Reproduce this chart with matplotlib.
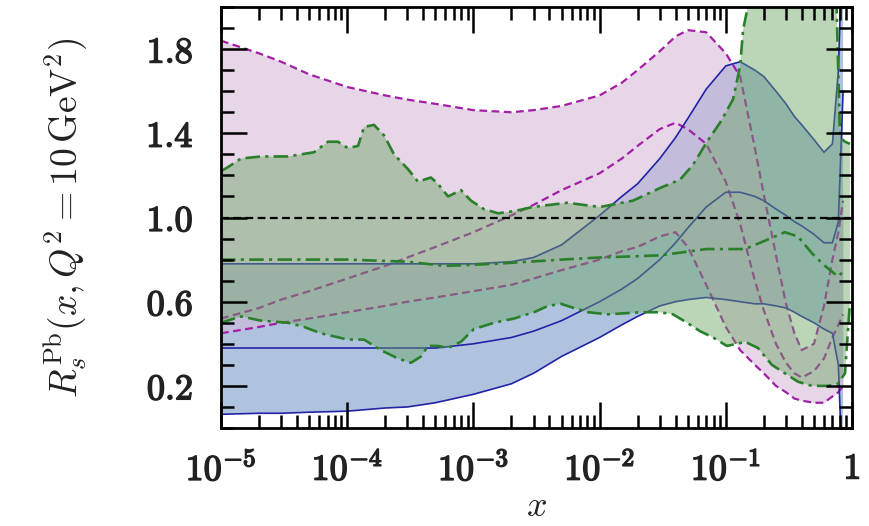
import numpy as np
import matplotlib.pyplot as plt
import matplotlib.patheffects as pe
from matplotlib.ticker import FixedLocator, FixedFormatter, MultipleLocator, LogLocator, NullFormatter

plt.rcParams['mathtext.fontset'] = 'cm'
plt.rcParams['font.family'] = ['DejaVu Serif']

# ---- common x grid for the magenta and blue bands ----
x_grid = [1e-5, 2e-5, 3e-5, 5e-5, 1e-4, 2e-4, 3e-4, 5e-4, 1e-3, 2e-3, 3e-3, 5e-3,
          0.01, 0.015, 0.02, 0.03, 0.04, 0.05, 0.07, 0.1, 0.13, 0.17, 0.2, 0.25,
          0.3, 0.35, 0.4, 0.5, 0.6, 0.7, 0.78, 0.85]

# magenta set (dashed)
mag_up = [1.84, 1.78, 1.74, 1.68, 1.62, 1.58, 1.56, 1.54, 1.51, 1.50, 1.51, 1.53,
          1.58, 1.64, 1.70, 1.79, 1.86, 1.89, 1.88, 1.78, 1.67, 1.33, 1.11, 0.82,
          0.59, 0.45, 0.37, 0.40, 0.58, 0.80, 0.93, 1.08]
mag_c = [0.52, 0.57, 0.61, 0.65, 0.71, 0.77, 0.81, 0.86, 0.93, 1.01, 1.06, 1.13,
         1.21, 1.28, 1.34, 1.42, 1.45, 1.42, 1.35, 1.17, 0.97, 0.70, 0.56, 0.40,
         0.31, 0.26, 0.24, 0.27, 0.33, 0.43, 0.49, 0.54]
mag_lo = [0.45, 0.48, 0.50, 0.52, 0.55, 0.58, 0.60, 0.62, 0.65, 0.68, 0.71, 0.75,
          0.80, 0.84, 0.86, 0.91, 0.93, 0.86, 0.68, 0.48, 0.37, 0.30, 0.26, 0.20,
          0.17, 0.14, 0.13, 0.12, 0.12, 0.15, 0.17, 0.20]

# blue set (solid)
blu_up = [0.78, 0.78, 0.78, 0.78, 0.78, 0.78, 0.78, 0.78, 0.78, 0.79, 0.81, 0.87,
          1.01, 1.10, 1.16, 1.28, 1.38, 1.47, 1.61, 1.72, 1.74, 1.70, 1.67, 1.60,
          1.54, 1.48, 1.44, 1.37, 1.31, 1.35, 1.70, 2.40]
blu_c = [0.38, 0.38, 0.38, 0.38, 0.38, 0.38, 0.38, 0.38, 0.40, 0.43, 0.46, 0.51,
         0.60, 0.66, 0.71, 0.80, 0.88, 0.95, 1.05, 1.12, 1.12, 1.10, 1.08, 1.04,
         1.01, 0.98, 0.96, 0.92, 0.88, 0.88, 0.98, 1.60]
blu_lo = [0.065, 0.07, 0.07, 0.075, 0.08, 0.095, 0.10, 0.12, 0.16, 0.21, 0.26, 0.34,
          0.43, 0.49, 0.53, 0.58, 0.60, 0.61, 0.62, 0.61, 0.60, 0.59, 0.59, 0.58,
          0.57, 0.55, 0.53, 0.50, 0.47, 0.45, 0.30, -0.30]

# green set (dash-dot), each edge on its own x values
grn_up_x = [1.0e-5, 1.14e-5, 1.44e-5, 2.08e-5, 3.40e-5, 5.46e-5, 7.05e-5, 8.45e-5,
            1.01e-4, 1.22e-4, 1.36e-4, 1.63e-4, 1.96e-4, 2.35e-4, 3.03e-4, 3.64e-4,
            4.61e-4, 5.24e-4, 6.30e-4, 7.98e-4, 9.57e-4, 1.21e-3, 1.57e-3, 2.10e-3,
            2.96e-3, 5.52e-3, 1.01e-2, 1.84e-2, 3.01e-2, 4.34e-2, 5.50e-2, 7.10e-2,
            0.090, 0.114, 0.130, 0.137, 0.147, 0.170, 0.733, 0.804, 0.881, 0.964]
grn_up = [1.22, 1.24, 1.28, 1.29, 1.29, 1.31, 1.36, 1.36,
          1.33, 1.34, 1.43, 1.44, 1.39, 1.30, 1.23, 1.17,
          1.19, 1.16, 1.10, 1.13, 1.08, 1.04, 1.02, 1.03,
          1.05, 1.07, 1.05, 1.08, 1.14, 1.18, 1.25, 1.36,
          1.45, 1.56, 1.72, 1.89, 1.98, 2.30, 2.30, 1.38, 1.36, 1.35]
grn_c_x = [1e-5, 1e-4, 3e-4, 6e-4, 1.5e-3, 5e-3, 0.01, 0.03, 0.07, 0.142, 0.205,
           0.294, 0.373, 0.482, 0.611, 0.774, 0.881]
grn_c = [0.80, 0.80, 0.79, 0.77, 0.78, 0.80, 0.81, 0.82, 0.85, 0.85, 0.89,
         0.93, 0.91, 0.83, 0.77, 0.72, 0.75]
grn_lo_x = [1.0e-5, 1.44e-5, 2.08e-5, 3.40e-5, 4.55e-5, 6.19e-5, 1.01e-4, 1.36e-4,
            1.85e-4, 2.53e-4, 3.20e-4, 3.85e-4, 4.36e-4, 5.24e-4, 6.30e-4, 7.98e-4,
            1.01e-3, 1.46e-3, 2.10e-3, 3.02e-3, 3.90e-3, 4.94e-3, 6.26e-3, 8.09e-3,
            1.17e-2, 2.13e-2, 3.01e-2, 3.82e-2, 4.93e-2, 6.25e-2, 7.93e-2, 0.102,
            0.123, 0.142, 0.180, 0.232, 0.294, 0.373, 0.482, 0.646, 0.774, 0.881, 0.964]
grn_lo = [0.50, 0.53, 0.51, 0.50, 0.48, 0.45, 0.42, 0.42,
          0.37, 0.33, 0.31, 0.34, 0.39, 0.39, 0.38, 0.41,
          0.47, 0.50, 0.52, 0.55, 0.58, 0.59, 0.57, 0.55,
          0.54, 0.55, 0.55, 0.54, 0.50, 0.46, 0.43, 0.39,
          0.40, 0.41, 0.38, 0.30, 0.26, 0.22, 0.20, 0.20, 0.21, 0.26, 0.60]

x_ticks = [1e-5, 1e-4, 1e-3, 1e-2, 1e-1, 1]
x_ticklabels = [r'$10^{-5}$', r'$10^{-4}$', r'$10^{-3}$', r'$10^{-2}$', r'$10^{-1}$', r'$1$']
y_ticks = [0.2, 0.6, 1.0, 1.4, 1.8]
y_ticklabels = [r'$0.2$', r'$0.6$', r'$1.0$', r'$1.4$', r'$1.8$']

c_mag, c_blu, c_grn = '#a21fa6', '#2323a8', '#2a7f2a'

fig = plt.figure(figsize=(8.69, 5.26), dpi=100)
ax = fig.add_axes([0.2543, 0.1863, 0.7261, 0.8004])

# blue and magenta fills, lines on top, then the green band over everything
ax.fill_between(x_grid, blu_lo, blu_up, color='#6189c1', alpha=0.5, lw=0, zorder=1)
ax.fill_between(x_grid, mag_lo, mag_up, color='#d3b7d7', alpha=0.57, lw=0, zorder=2)

for y in (mag_up, mag_c, mag_lo):
    ax.plot(x_grid, y, color=c_mag, lw=1.6, dashes=[3.5, 2], zorder=3)
for y in (blu_up, blu_c, blu_lo):
    ax.plot(x_grid, y, color=c_blu, lw=1.2, zorder=3)

ax.fill(np.concatenate([grn_up_x, grn_lo_x[::-1]]),
        np.concatenate([grn_up, grn_lo[::-1]]),
        color='#6aa461', alpha=0.45, lw=0, zorder=4)
for xs, y in ((grn_up_x, grn_up), (grn_c_x, grn_c), (grn_lo_x, grn_lo)):
    ax.plot(xs, y, color=c_grn, lw=1.9, dashes=[5.5, 2, 1.2, 2], zorder=5)

ax.axhline(1.0, color='black', lw=1.6, dashes=[3.5, 2], zorder=6)

ax.set_xscale('log')
ax.set_xlim(1e-5, 1)
ax.set_ylim(0, 2.0)

ax.xaxis.set_major_locator(FixedLocator(x_ticks))
ax.xaxis.set_major_formatter(FixedFormatter(x_ticklabels))
ax.xaxis.set_minor_locator(LogLocator(base=10, subs=np.arange(2, 10), numticks=20))
ax.xaxis.set_minor_formatter(NullFormatter())
ax.yaxis.set_major_locator(FixedLocator(y_ticks))
ax.yaxis.set_major_formatter(FixedFormatter(y_ticklabels))
ax.yaxis.set_minor_locator(MultipleLocator(0.1))

ax.tick_params(which='both', direction='in', top=True, right=True, width=1.8, colors='black')
ax.tick_params(which='major', length=19)
ax.tick_params(which='minor', length=9.5)
ax.tick_params(axis='y', which='major', pad=20, labelsize=26, labelcolor='#222222')
ax.tick_params(axis='x', which='major', pad=17, labelsize=26, labelcolor='#222222')

# ticks and frame above the bands
ax.xaxis.set_zorder(10)
ax.yaxis.set_zorder(10)
for s in ax.spines.values():
    s.set_linewidth(2)
    s.set_zorder(11)

# heavier strokes on the tick numbers
bold = [pe.withStroke(linewidth=1.1, foreground='#222222')]
for lab in ax.get_xticklabels() + ax.get_yticklabels():
    lab.set_path_effects(bold)

ax.set_ylabel(r'$R_s^{\rm Pb}(x, Q^2 = 10\,{\rm GeV}^2)$', fontsize=27, color='#222222')
ax.yaxis.set_label_coords(-0.208, 0.5)
ax.set_xlabel('$x$', fontsize=26, color='#222222')
ax.xaxis.set_label_coords(0.5, -0.145)

fig.savefig('out.png', dpi=100)
